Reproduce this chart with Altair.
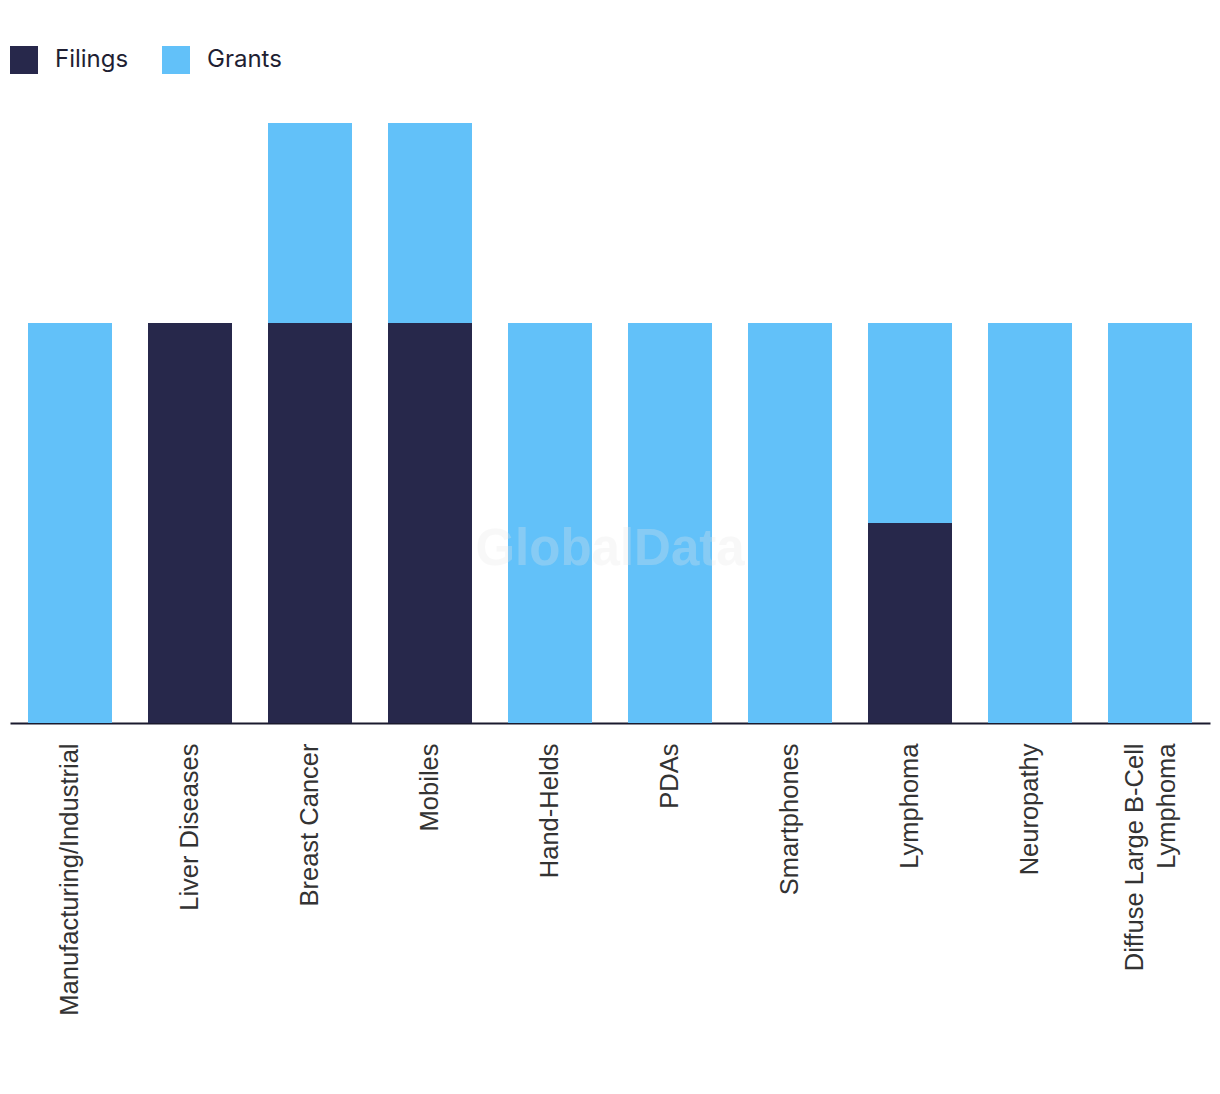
import altair as alt
import pandas as pd

categories = ["Manufacturing/Industrial", "Liver Diseases", "Breast Cancer", "Mobiles",
              "Hand-Helds", "PDAs", "Smartphones", "Lymphoma", "Neuropathy",
              "Diffuse Large B-Cell Lymphoma"]
filings = [0, 2, 2, 2, 0, 0, 0, 1, 0, 0]
grants = [2, 0, 1, 1, 2, 2, 2, 1, 2, 2]
series = ["Filings", "Grants"]
colors = ["#27284b", "#62c1f9"]

rows = []
for c, f, g in zip(categories, filings, grants):
    rows.append({"category": c, "type": "Filings", "value": f, "ord": 0})
    rows.append({"category": c, "type": "Grants", "value": g, "ord": 1})
df = pd.DataFrame(rows)

label_expr = ("datum.value == 'Diffuse Large B-Cell Lymphoma' ? "
              "['Diffuse Large B-Cell', 'Lymphoma'] : datum.label")

bars = alt.Chart(df).mark_bar().encode(
    x=alt.X("category:N", sort=categories, title=None,
            scale=alt.Scale(paddingInner=0.3, paddingOuter=0.15),
            axis=alt.Axis(labelAngle=-90, labelFontSize=25.5, labelColor="#333333",
                          labelFont="Liberation Sans", ticks=False, labelPadding=20,
                          domainColor="#1a1a2e", domainWidth=2, labelExpr=label_expr,
                          labelLineHeight=32, labelBaseline="middle", labelAlign="right",
                          labelLimit=500,
                          labelOffset=alt.condition(
                              "datum.value == 'Diffuse Large B-Cell Lymphoma'",
                              alt.value(-15), alt.value(0)))),
    y=alt.Y("value:Q", stack="zero", title=None,
            scale=alt.Scale(domain=[0, 3], nice=False),
            axis=None),
    color=alt.Color("type:N", scale=alt.Scale(domain=series, range=colors),
                    legend=alt.Legend(title=None, orient="none", legendX=0, legendY=-77,
                                      direction="horizontal", symbolType="square",
                                      symbolSize=784, symbolStrokeWidth=0,
                                      labelFontSize=24, labelFont="Inter",
                                      labelColor="#1f1f33", labelOffset=17,
                                      columnPadding=33, padding=0)),
    order=alt.Order("ord:Q", sort="ascending"),
)

watermark = alt.Chart(pd.DataFrame({"t": ["GlobalData"]})).mark_text(
    fontSize=51, fontWeight="bold", font="Liberation Sans", color="#e8e8e8", opacity=0.28
).encode(text="t:N", x=alt.value(600), y=alt.value(427))

chart = alt.layer(bars, watermark).properties(
    width=1200, height=600,
    background="white",
    autosize=alt.AutoSizeParams(type="none"),
    padding={"left": 10, "top": 123, "right": 10, "bottom": 371},
).configure_view(stroke=None)

chart.save("out.html", embed_options={"renderer": "svg", "actions": False})
